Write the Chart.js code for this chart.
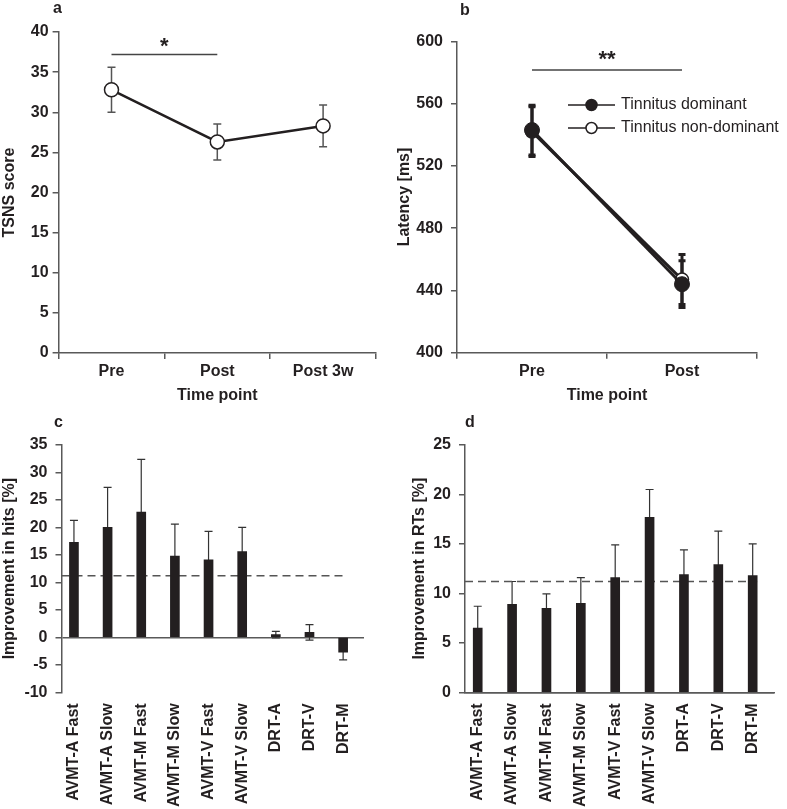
<!DOCTYPE html>
<html>
<head>
<meta charset="utf-8">
<script src="https://cdn.jsdelivr.net/npm/chart.js@4.4.1/dist/chart.umd.min.js"></script>
<style>
  body { margin: 0; background: #fff; }
  #wrap { position: relative; width: 787px; height: 809px; font-family: "Liberation Sans", Arial, sans-serif; }
  .panel { position: absolute; }
  .tag { position: absolute; font-weight: bold; font-size: 16px; line-height: 1; color: #231f20; }
</style>
</head>
<body>
<div id="wrap">
  <div class="panel" style="left:0;top:0;width:393px;height:405px"><canvas id="chartA"></canvas></div>
  <div class="panel" style="left:393px;top:0;width:394px;height:405px"><canvas id="chartB"></canvas></div>
  <div class="panel" style="left:0;top:400px;width:393px;height:409px"><canvas id="chartC"></canvas></div>
  <div class="panel" style="left:393px;top:400px;width:394px;height:409px"><canvas id="chartD"></canvas></div>
  <div class="tag" style="left:53px;top:0px">a</div>
  <div class="tag" style="left:460px;top:2px">b</div>
  <div class="tag" style="left:54px;top:414px">c</div>
  <div class="tag" style="left:465px;top:414px">d</div>
</div>
<script>
// panel a - TSNS score
const timeLabelsA = ["Pre", "Post", "Post 3w"];
const tsnsMean = [32.8, 26.3, 28.3];
const tsnsErr = [2.8, 2.25, 2.6];

// panel b - latency
const timeLabelsB = ["Pre", "Post"];
const latDominant = [543, 444];
const latDominantErr = [16, 15];
const latNonDominant = [542, 447];
const latNonDominantErr = [16, 16];

// panels c, d - tasks
const taskLabels = ["AVMT-A Fast", "AVMT-A Slow", "AVMT-M Fast", "AVMT-M Slow", "AVMT-V Fast", "AVMT-V Slow", "DRT-A", "DRT-V", "DRT-M"];
const hitsMean = [17.3, 20.0, 22.8, 14.8, 14.1, 15.6, 0.5, 0.9, -2.7];
const hitsErr = [4.0, 7.3, 9.6, 5.8, 5.2, 4.4, 0.6, 1.4, 1.4];
const rtMean = [6.5, 8.9, 8.5, 9.0, 11.6, 17.7, 11.9, 12.9, 11.8];
const rtErr = [2.2, 2.3, 1.45, 2.6, 3.3, 2.8, 2.5, 3.4, 3.2];
const refHits = 11.2;
const refRT = 11.2;

const INK = "#231f20";
const AXIS = "#595959";
const FONT = '"Liberation Sans", Arial, sans-serif';

Chart.defaults.font.family = FONT;
Chart.defaults.font.size = 16;
Chart.defaults.color = INK;
Chart.defaults.animation = false;
Chart.defaults.plugins.legend.display = false;
Chart.defaults.plugins.tooltip.enabled = false;

// error bars from dataset.errors, drawn under the marks
const errorBars = {
    id: "errorBars",
    beforeDatasetsDraw(chart, args, o) {
        const ctx = chart.ctx;
        const ys = chart.scales.y;
        chart.data.datasets.forEach((ds, di) => {
            if (!ds.errors) return;
            const meta = chart.getDatasetMeta(di);
            ctx.save();
            ctx.strokeStyle = o.color;
            ctx.lineWidth = o.width;
            meta.data.forEach((el, i) => {
                const v = meta.controller.getParsed(i).y;
                const e = ds.errors[i];
                const top = ys.getPixelForValue(v + e);
                const bot = ys.getPixelForValue(v - e);
                ctx.beginPath();
                ctx.moveTo(el.x, top);
                ctx.lineTo(el.x, bot);
                ctx.moveTo(el.x - o.cap, top);
                ctx.lineTo(el.x + o.cap, top);
                ctx.moveTo(el.x - o.cap, bot);
                ctx.lineTo(el.x + o.cap, bot);
                ctx.stroke();
            });
            ctx.restore();
        });
    }
};

// significance bar with asterisks
const sigBar = {
    id: "sigBar",
    afterDatasetsDraw(chart, args, o) {
        const { ctx, scales: { x, y } } = chart;
        const x1 = x.getPixelForValue(o.from);
        const x2 = x.getPixelForValue(o.to);
        const py = y.getPixelForValue(o.y);
        ctx.save();
        ctx.strokeStyle = "#444";
        ctx.lineWidth = 1.5;
        ctx.beginPath();
        ctx.moveTo(x1, py);
        ctx.lineTo(x2, py);
        ctx.stroke();
        ctx.fillStyle = INK;
        ctx.font = "bold 22px " + FONT;
        ctx.textAlign = "center";
        ctx.textBaseline = "alphabetic";
        ctx.fillText(o.text, (x1 + x2) / 2, py - o.gap);
        ctx.restore();
    }
};

// legend with line + marker, placed inside the plot
const lineLegend = {
    id: "lineLegend",
    afterDraw(chart, args, o) {
        const ctx = chart.ctx;
        ctx.save();
        chart.data.datasets.forEach((ds, i) => {
            const yy = o.top + i * o.rowGap;
            ctx.strokeStyle = INK;
            ctx.lineWidth = 1.5;
            ctx.beginPath();
            ctx.moveTo(o.left, yy);
            ctx.lineTo(o.left + o.lineLen, yy);
            ctx.stroke();
            ctx.beginPath();
            ctx.arc(o.left + o.lineLen / 2, yy, 5.5, 0, Math.PI * 2);
            ctx.fillStyle = ds.pointBackgroundColor;
            ctx.fill();
            ctx.stroke();
            ctx.fillStyle = INK;
            ctx.font = "16px " + FONT;
            ctx.textAlign = "left";
            ctx.textBaseline = "middle";
            ctx.fillText(ds.label, o.left + o.lineLen + 6, yy);
        });
        ctx.restore();
    }
};

function yAxis(min, max, step, title, width, pad, titlePad) {
    return {
        min: min, max: max,
        ticks: { stepSize: step, padding: pad, font: { weight: "bold" } },
        grid: { drawOnChartArea: false, tickLength: 6, color: AXIS, lineWidth: 1.5 },
        border: { color: AXIS, width: 1.5 },
        title: { display: true, text: title, font: { weight: "bold" }, padding: { top: titlePad, bottom: 0 } },
        afterFit: s => { s.width = width; }
    };
}

// panel a
new Chart(document.getElementById("chartA"), {
    type: "line",
    data: {
        labels: timeLabelsA,
        datasets: [{
            data: tsnsMean,
            errors: tsnsErr,
            borderColor: INK,
            borderWidth: 2.5,
            pointRadius: 7,
            pointBackgroundColor: "#fff",
            pointBorderColor: INK,
            pointBorderWidth: 1.5
        }]
    },
    options: {
        responsive: true,
        maintainAspectRatio: false,
        layout: { padding: { left: 0, top: 32, right: 17, bottom: 0 } },
        scales: {
            x: {
                offset: true,
                ticks: { padding: 3, font: { weight: "bold" } },
                grid: { offset: true, drawOnChartArea: false, tickLength: 6, color: AXIS, lineWidth: 1.5 },
                border: { color: AXIS, width: 1.5 },
                title: { display: true, text: "Time point", font: { weight: "bold" }, padding: 0 },
                afterFit: s => { s.height = 52; }
            },
            y: yAxis(0, 40, 5, "TSNS score", 58.6, 4, 0)
        },
        plugins: {
            errorBars: { color: "#555", width: 1.5, cap: 4 },
            sigBar: { from: 0, to: 1, y: 37.2, text: "*", gap: 1 }
        }
    },
    plugins: [errorBars, sigBar]
});

// panel b
new Chart(document.getElementById("chartB"), {
    type: "line",
    data: {
        labels: timeLabelsB,
        datasets: [{
            label: "Tinnitus dominant",
            data: latDominant,
            errors: latDominantErr,
            borderColor: INK,
            borderWidth: 3,
            pointRadius: 7.5,
            pointBackgroundColor: INK,
            pointBorderColor: INK,
            pointBorderWidth: 1
        }, {
            label: "Tinnitus non-dominant",
            data: latNonDominant,
            errors: latNonDominantErr,
            borderColor: INK,
            borderWidth: 3,
            pointRadius: 6.5,
            pointBackgroundColor: "#fff",
            pointBorderColor: INK,
            pointBorderWidth: 1.5
        }]
    },
    options: {
        responsive: true,
        maintainAspectRatio: false,
        layout: { padding: { left: 0, top: 41.3, right: 30, bottom: 0 } },
        scales: {
            x: {
                offset: true,
                ticks: { padding: 3, font: { weight: "bold" } },
                grid: { offset: true, drawOnChartArea: false, tickLength: 6, color: AXIS, lineWidth: 1.5 },
                border: { color: AXIS, width: 1.5 },
                title: { display: true, text: "Time point", font: { weight: "bold" }, padding: 0 },
                afterFit: s => { s.height = 52.3; }
            },
            y: yAxis(400, 600, 40, "Latency [ms]", 64, 8, 2)
        },
        plugins: {
            errorBars: { color: INK, width: 3, cap: 3.5 },
            sigBar: { from: 0, to: 1, y: 581.6, text: "**", gap: 4 },
            lineLegend: { left: 175, top: 105, rowGap: 23, lineLen: 47 }
        }
    },
    plugins: [errorBars, sigBar, lineLegend]
});

function barChart(id, mean, err, ref, yMin, yMax, title, padLeft, yWidth, padRight, showXBorder) {
    const xMin = -0.37;
    const xMax = taskLabels.length - 1 + 0.62;
    return new Chart(document.getElementById(id), {
        type: "bar",
        data: {
            datasets: [{
                data: mean.map((v, i) => ({ x: i, y: v })),
                errors: err,
                backgroundColor: INK,
                barThickness: 9,
                order: 0
            }, {
                type: "line",
                data: [{ x: xMin, y: ref }, { x: taskLabels.length - 1 + 0.13, y: ref }],
                borderColor: "#555",
                borderWidth: 1.5,
                borderDash: [8, 5],
                pointRadius: 0,
                order: 1
            }]
        },
        options: {
            responsive: true,
            maintainAspectRatio: false,
            layout: { padding: { left: padLeft, top: 45, right: padRight, bottom: 0 } },
            scales: {
                x: {
                    type: "linear",
                    offset: false,
                    min: xMin,
                    max: xMax,
                    afterBuildTicks: s => { s.ticks = taskLabels.map((_, i) => ({ value: i })); },
                    ticks: {
                        autoSkip: false, minRotation: 90, maxRotation: 90, padding: 3,
                        font: { weight: "bold" },
                        callback: v => taskLabels[v]
                    },
                    grid: { display: false, offset: false },
                    border: { display: showXBorder, color: AXIS, width: 1.5 },
                    afterFit: s => { s.height = 116.7; }
                },
                y: {
                    min: yMin, max: yMax,
                    ticks: { stepSize: 5, padding: 8, font: { weight: "bold" } },
                    grid: {
                        drawOnChartArea: true, tickLength: 6, lineWidth: 1.5, tickColor: AXIS,
                        color: c => (c.tick && c.tick.value === 0) ? AXIS : "rgba(0,0,0,0)"
                    },
                    border: { color: AXIS, width: 1.5 },
                    title: { display: true, text: title, font: { weight: "bold" }, padding: { top: 0, bottom: 0 } },
                    afterFit: s => { s.width = yWidth; }
                }
            },
            plugins: {
                errorBars: { color: "#333", width: 1.2, cap: 4 }
            }
        },
        plugins: [errorBars]
    });
}

barChart("chartC", hitsMean, hitsErr, refHits, -10, 35, "Improvement in hits [%]", 0, 61.5, 29, false);
barChart("chartD", rtMean, rtErr, refRT, 0, 25, "Improvement in RTs [%]", 17, 55, 13, true);
</script>
</body>
</html>
